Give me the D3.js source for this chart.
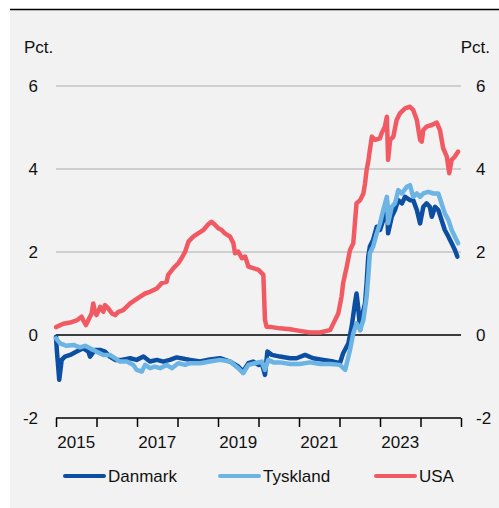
<!DOCTYPE html>
<html><head><meta charset="utf-8">
<script src="https://cdn.jsdelivr.net/npm/d3@7"></script>
<style>
html,body{margin:0;padding:0;background:#fff;}
svg{display:block;font-family:"Liberation Sans",Arial,sans-serif;}
</style></head>
<body>
<svg id="c" width="499" height="508"></svg>
<script>
// ---- data (decimal year, percent) ----
const seriesNames = ["Danmark", "Tyskland", "USA"];
const seriesColors = ["#0b4ea2", "#6cb4e4", "#f25a63"];
const yTicks = [-2, 0, 2, 4, 6];
const yearLabels = [2015, 2017, 2019, 2021, 2023];

const danmark = [
[2015.00,-0.04],[2015.02,-0.36],[2015.08,-1.08],[2015.14,-0.60],[2015.22,-0.52],[2015.35,-0.48],
[2015.51,-0.40],[2015.67,-0.32],[2015.80,-0.40],[2015.84,-0.52],[2015.96,-0.36],[2016.09,-0.36],
[2016.21,-0.40],[2016.33,-0.52],[2016.46,-0.60],[2016.62,-0.60],[2016.83,-0.56],[2016.99,-0.60],
[2017.16,-0.52],[2017.32,-0.64],[2017.49,-0.60],[2017.65,-0.64],[2017.81,-0.60],[2017.98,-0.54],
[2018.19,-0.58],[2018.31,-0.60],[2018.56,-0.64],[2018.80,-0.59],[2019.05,-0.56],[2019.30,-0.64],
[2019.50,-0.76],[2019.62,-0.88],[2019.75,-0.68],[2019.87,-0.64],[2020.00,-0.72],[2020.08,-0.68],
[2020.16,-0.96],[2020.22,-0.40],[2020.33,-0.48],[2020.53,-0.52],[2020.78,-0.56],[2020.94,-0.56],
[2021.15,-0.48],[2021.35,-0.56],[2021.60,-0.60],[2021.85,-0.64],[2022.01,-0.68],[2022.09,-0.44],
[2022.22,-0.20],[2022.30,0.20],[2022.38,0.76],[2022.42,1.00],[2022.46,0.68],[2022.51,0.12],
[2022.55,0.44],[2022.63,0.76],[2022.67,1.25],[2022.71,1.89],[2022.75,2.13],[2022.83,2.29],
[2022.92,2.61],[2023.00,2.53],[2023.08,2.77],[2023.17,3.25],[2023.20,2.45],[2023.29,2.85],
[2023.37,3.01],[2023.45,3.25],[2023.54,3.17],[2023.62,3.33],[2023.74,3.25],[2023.82,3.25],
[2023.91,3.01],[2023.99,2.69],[2024.07,3.09],[2024.15,3.17],[2024.23,3.09],[2024.28,2.85],
[2024.36,3.09],[2024.44,3.01],[2024.52,2.77],[2024.60,2.53],[2024.69,2.37],[2024.77,2.21],
[2024.85,2.05],[2024.91,1.89]
];

const tyskland = [
[2015.00,-0.08],[2015.10,-0.20],[2015.26,-0.26],[2015.43,-0.24],[2015.59,-0.30],[2015.72,-0.26],
[2015.84,-0.32],[2016.00,-0.40],[2016.17,-0.48],[2016.33,-0.48],[2016.46,-0.56],[2016.58,-0.64],
[2016.75,-0.64],[2016.91,-0.72],[2016.99,-0.84],[2017.12,-0.88],[2017.20,-0.72],[2017.32,-0.80],
[2017.44,-0.76],[2017.57,-0.80],[2017.73,-0.72],[2017.86,-0.80],[2018.02,-0.68],[2018.19,-0.72],
[2018.31,-0.68],[2018.56,-0.68],[2018.80,-0.64],[2019.05,-0.60],[2019.30,-0.64],[2019.50,-0.80],
[2019.62,-0.92],[2019.75,-0.72],[2019.96,-0.67],[2020.08,-0.64],[2020.16,-0.84],[2020.24,-0.60],
[2020.37,-0.66],[2020.53,-0.66],[2020.78,-0.70],[2021.02,-0.70],[2021.27,-0.66],[2021.52,-0.70],
[2021.77,-0.70],[2022.01,-0.72],[2022.14,-0.84],[2022.26,-0.36],[2022.34,0.04],[2022.42,0.28],
[2022.51,0.12],[2022.59,0.36],[2022.67,0.92],[2022.71,1.41],[2022.75,1.97],[2022.83,2.13],
[2022.92,2.45],[2023.00,2.69],[2023.08,3.01],[2023.17,3.33],[2023.20,2.69],[2023.29,3.09],
[2023.37,3.17],[2023.45,3.49],[2023.54,3.41],[2023.66,3.57],[2023.74,3.61],[2023.82,3.33],
[2023.91,3.41],[2023.99,3.33],[2024.07,3.41],[2024.19,3.45],[2024.32,3.41],[2024.44,3.41],
[2024.52,3.17],[2024.60,2.93],[2024.69,2.77],[2024.77,2.53],[2024.85,2.37],[2024.93,2.21]
];

const usa = [
[2015.00,0.19],[2015.18,0.27],[2015.35,0.30],[2015.51,0.35],[2015.63,0.44],[2015.67,0.36],
[2015.74,0.24],[2015.80,0.36],[2015.88,0.52],[2015.92,0.76],[2015.96,0.56],[2016.00,0.48],
[2016.09,0.68],[2016.17,0.56],[2016.21,0.72],[2016.29,0.64],[2016.38,0.52],[2016.46,0.48],
[2016.54,0.56],[2016.66,0.60],[2016.83,0.76],[2016.95,0.84],[2017.07,0.92],[2017.20,1.00],
[2017.32,1.04],[2017.49,1.12],[2017.61,1.25],[2017.73,1.28],[2017.77,1.45],[2017.90,1.61],
[2018.02,1.73],[2018.10,1.85],[2018.19,2.01],[2018.27,2.25],[2018.39,2.37],[2018.51,2.45],
[2018.64,2.53],[2018.76,2.67],[2018.84,2.73],[2018.93,2.65],[2019.01,2.57],[2019.09,2.53],
[2019.17,2.45],[2019.30,2.37],[2019.38,2.21],[2019.42,1.97],[2019.50,2.01],[2019.59,1.85],
[2019.67,1.89],[2019.75,1.65],[2019.87,1.61],[2020.00,1.57],[2020.08,1.49],[2020.12,1.45],
[2020.16,0.36],[2020.20,0.20],[2020.33,0.19],[2020.53,0.16],[2020.78,0.14],[2021.02,0.10],
[2021.27,0.06],[2021.52,0.06],[2021.68,0.10],[2021.77,0.12],[2021.85,0.28],[2021.97,0.52],
[2022.05,0.92],[2022.09,1.25],[2022.18,1.65],[2022.26,2.05],[2022.34,2.21],[2022.38,2.69],
[2022.42,3.17],[2022.51,3.25],[2022.59,3.41],[2022.63,3.65],[2022.67,3.98],[2022.71,4.18],
[2022.75,4.46],[2022.80,4.78],[2022.88,4.70],[2023.00,4.74],[2023.04,4.86],[2023.12,5.02],
[2023.17,5.26],[2023.20,4.22],[2023.25,4.70],[2023.33,4.78],[2023.41,5.18],[2023.49,5.34],
[2023.62,5.46],[2023.74,5.50],[2023.82,5.42],[2023.91,5.18],[2023.99,4.70],[2024.03,4.66],
[2024.07,4.94],[2024.15,5.02],[2024.28,5.06],[2024.40,5.12],[2024.48,4.94],[2024.56,4.50],
[2024.65,4.30],[2024.71,3.90],[2024.77,4.22],[2024.85,4.30],[2024.93,4.42]
];

const allSeries = [danmark, tyskland, usa];

// ---- drawing ----
const svg = d3.select("#c");
const font = 17;

svg.append("rect").attr("x",10).attr("y",9).attr("width",489).attr("height",499).attr("fill","#f2f2f2");
svg.append("line").attr("x1",10).attr("x2",499).attr("y1",9.5).attr("y2",9.5).attr("stroke","#000").attr("stroke-width",1.5);

const x = d3.scaleLinear().domain([2015, 2025]).range([56, 461]);
const y = d3.scaleLinear().domain([-2, 6]).range([418, 86]);

// gridlines
svg.append("g").selectAll("line").data(yTicks.filter(d => d > 0)).join("line")
  .attr("x1", 56).attr("x2", 461)
  .attr("y1", d => y(d)).attr("y2", d => y(d))
  .attr("stroke", "#c3c3c3").attr("stroke-width", 1.5);

// y labels both sides
svg.append("g").selectAll("text").data(yTicks).join("text")
  .attr("x", 38).attr("y", d => y(d) + 6).attr("text-anchor","end")
  .attr("font-size", font).attr("fill","#111").text(d => d);
svg.append("g").selectAll("text").data(yTicks).join("text")
  .attr("x", 476).attr("y", d => y(d) + 6).attr("text-anchor","start")
  .attr("font-size", font).attr("fill","#111").text(d => d);

svg.append("text").attr("x",24).attr("y",53).attr("font-size",font).attr("fill","#111").text("Pct.");
svg.append("text").attr("x",490).attr("y",53).attr("text-anchor","end").attr("font-size",font).attr("fill","#111").text("Pct.");

// zero line
svg.append("line").attr("x1",56).attr("x2",461).attr("y1",y(0)).attr("y2",y(0)).attr("stroke","#000").attr("stroke-width",1.5);

// x axis
const xAxis = d3.axisBottom(x).tickValues(d3.range(2015, 2026)).tickSize(9).tickFormat("");
const gx = svg.append("g").attr("transform", `translate(0,${y(-2)})`).call(xAxis);
gx.select(".domain").attr("stroke","#000").attr("stroke-width",1.5).attr("d", `M56,0H461`);
gx.selectAll(".tick line").attr("stroke","#000").attr("stroke-width",1.5);

svg.append("g").selectAll("text").data(yearLabels).join("text")
  .attr("x", d => x(d + 0.5)).attr("y", 448).attr("text-anchor","middle")
  .attr("font-size", font).attr("fill","#111").text(d => d);

// series lines
const line = d3.line().x(d => x(d[0])).y(d => y(d[1]));
allSeries.forEach((s, i) => {
  svg.append("path").datum(s).attr("d", line).attr("fill","none")
    .attr("stroke", seriesColors[i]).attr("stroke-width", 4.5)
    .attr("stroke-linejoin","round").attr("stroke-linecap","round");
});

// legend
const legendX = [65, 220, 376];
const lg = svg.append("g");
seriesNames.forEach((n, i) => {
  lg.append("line").attr("x1", legendX[i]).attr("x2", legendX[i] + 39)
    .attr("y1", 476).attr("y2", 476).attr("stroke", seriesColors[i]).attr("stroke-width", 4)
    .attr("stroke-linecap","round");
  lg.append("text").attr("x", legendX[i] + 43).attr("y", 482)
    .attr("font-size", font).attr("fill","#111").text(n);
});
</script>
</body></html>
